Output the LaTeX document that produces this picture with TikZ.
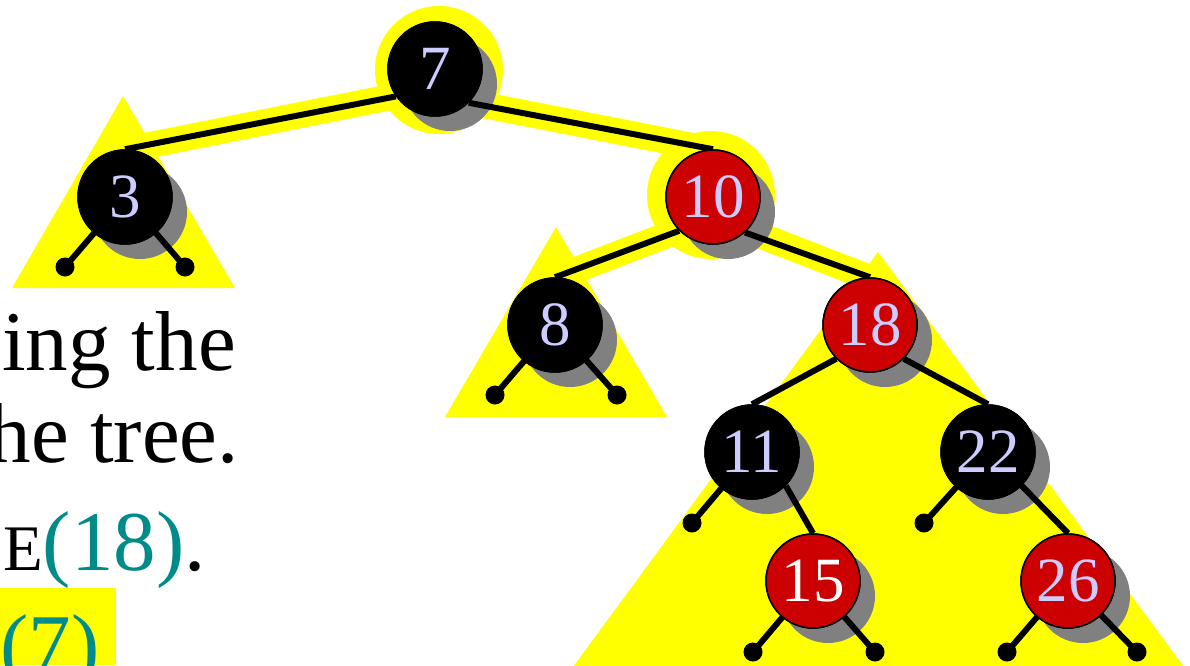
\documentclass[tikz,border=0pt]{standalone}
\usepackage{fontspec}
\setmainfont{Liberation Serif}
\definecolor{hl}{RGB}{255,255,0}
\definecolor{rb}{RGB}{204,0,0}
\definecolor{sh}{RGB}{128,128,128}
\definecolor{lav}{RGB}{204,204,255}
\definecolor{tealc}{RGB}{0,139,139}
\begin{document}
\begin{tikzpicture}[x=1pt,y=-1pt,
  rbnode/.style={circle,minimum size=94pt,inner sep=0pt,draw=black,line width=1.5pt,
    font=\fontsize{63}{63}\selectfont,text=lav},
  blk/.style={rbnode,fill=black},
  red/.style={rbnode,fill=rb},
  shad/.style={fill=sh},
  halo/.style={fill=hl},
  band/.style={draw=hl,line width=26pt},
  edge/.style={draw=black,line width=6pt},
  leaf/.style={circle,fill=black,minimum size=19pt,inner sep=0pt},
  bigtext/.style={inner sep=0pt,font=\fontsize{85}{85}\selectfont}]
\useasboundingbox (0,0) rectangle (1190,665);
% subtree triangles
\fill[hl] (123,96) -- (235,288) -- (12,288) -- cycle;
\fill[hl] (556,227) -- (667,417) -- (445,417) -- cycle;
\fill[hl] (878,252) -- (1184,667) -- (573,667) -- cycle;
% node centres
\coordinate (c7) at (435,69);
\coordinate (c3) at (125,197);
\coordinate (c10) at (713,197);
\coordinate (c8) at (555,325);
\coordinate (c18) at (870,325);
\coordinate (c11) at (752,452);
\coordinate (c22) at (988,452);
\coordinate (c15) at (813,581);
\coordinate (c26) at (1068,581);
% highlight bands along the search path
\draw[band] (396,96) -- (125,150);
\draw[band] (468,102) -- (713,150);
\draw[band] (680,230) -- (555,278);
\draw[band] (746,230) -- (870,278);
% halos
\fill[halo] (439,70) circle (64);
\fill[halo] (711,195) circle (64);
% shadows
\foreach \c in {c7,c3,c10,c8,c18,c11,c22,c15,c26}
  \fill[shad] ([shift={(15,15)}]\c) circle (47);
% leaves
\node[leaf] (l3a) at (65,267) {};
\node[leaf] (l3b) at (185,267) {};
\node[leaf] (l8a) at (495,395) {};
\node[leaf] (l8b) at (617,395) {};
\node[leaf] (l11a) at (692,523) {};
\node[leaf] (l22a) at (924,523) {};
\node[leaf] (l15a) at (753,652) {};
\node[leaf] (l15b) at (875,652) {};
\node[leaf] (l26a) at (1007,652) {};
\node[leaf] (l26b) at (1137,652) {};
% tree nodes (first pass, for anchors)
\path (c7) node[blk] (n7) {7};
\path (c3) node[blk] (n3) {3};
\path (c10) node[red] (n10) {10};
\path (c8) node[blk] (n8) {8};
\path (c18) node[red] (n18) {18};
\path (c11) node[blk] (n11) {11};
\path (c22) node[blk] (n22) {22};
\path (c15) node[red,text=white] (n15) {15};
\path (c26) node[red] (n26) {26};
% edges
\draw[edge] (n7.215) -- (n3.north);
\draw[edge] (n7.315) -- (n10.north);
\draw[edge] (n10.225) -- (n8.north);
\draw[edge] (n10.312) -- (n18.north);
\draw[edge] (n18.225) -- (n11.north);
\draw[edge] (n18.315) -- (n22.north);
\draw[edge] (n11.315) -- (n15.north);
\draw[edge] (n22.315) -- (n26.north);
\draw[edge] (n3.center) -- (l3a.center);
\draw[edge] (n3.center) -- (l3b.center);
\draw[edge] (n8.center) -- (l8a.center);
\draw[edge] (n8.center) -- (l8b.center);
\draw[edge] (n11.center) -- (l11a.center);
\draw[edge] (n22.center) -- (l22a.center);
\draw[edge] (n15.center) -- (l15a.center);
\draw[edge] (n15.center) -- (l15b.center);
\draw[edge] (n26.center) -- (l26a.center);
\draw[edge] (n26.center) -- (l26b.center);
% nodes on top of the edges
\path (c7) node[blk] {7};
\path (c3) node[blk] {3};
\path (c10) node[red] {10};
\path (c8) node[blk] {8};
\path (c18) node[red] {18};
\path (c11) node[blk] {11};
\path (c22) node[blk] {22};
\path (c15) node[red,text=white] {15};
\path (c26) node[red] {26};
% left text
\node[bigtext,anchor=base east] (t1) at (236,370) {ing the};
\node[bigtext,anchor=base east] (t2) at (239,462) {he tree.};
\node[bigtext,anchor=base west] (t3) at (3,570) {{\fontsize{65}{65}\selectfont E}\textcolor{tealc}{(18)}.};
\fill[hl] (0,588) rectangle (116,665);
\node[bigtext,anchor=base west,text=tealc] (t4) at (0,673) {(7)};
\end{tikzpicture}
\end{document}
